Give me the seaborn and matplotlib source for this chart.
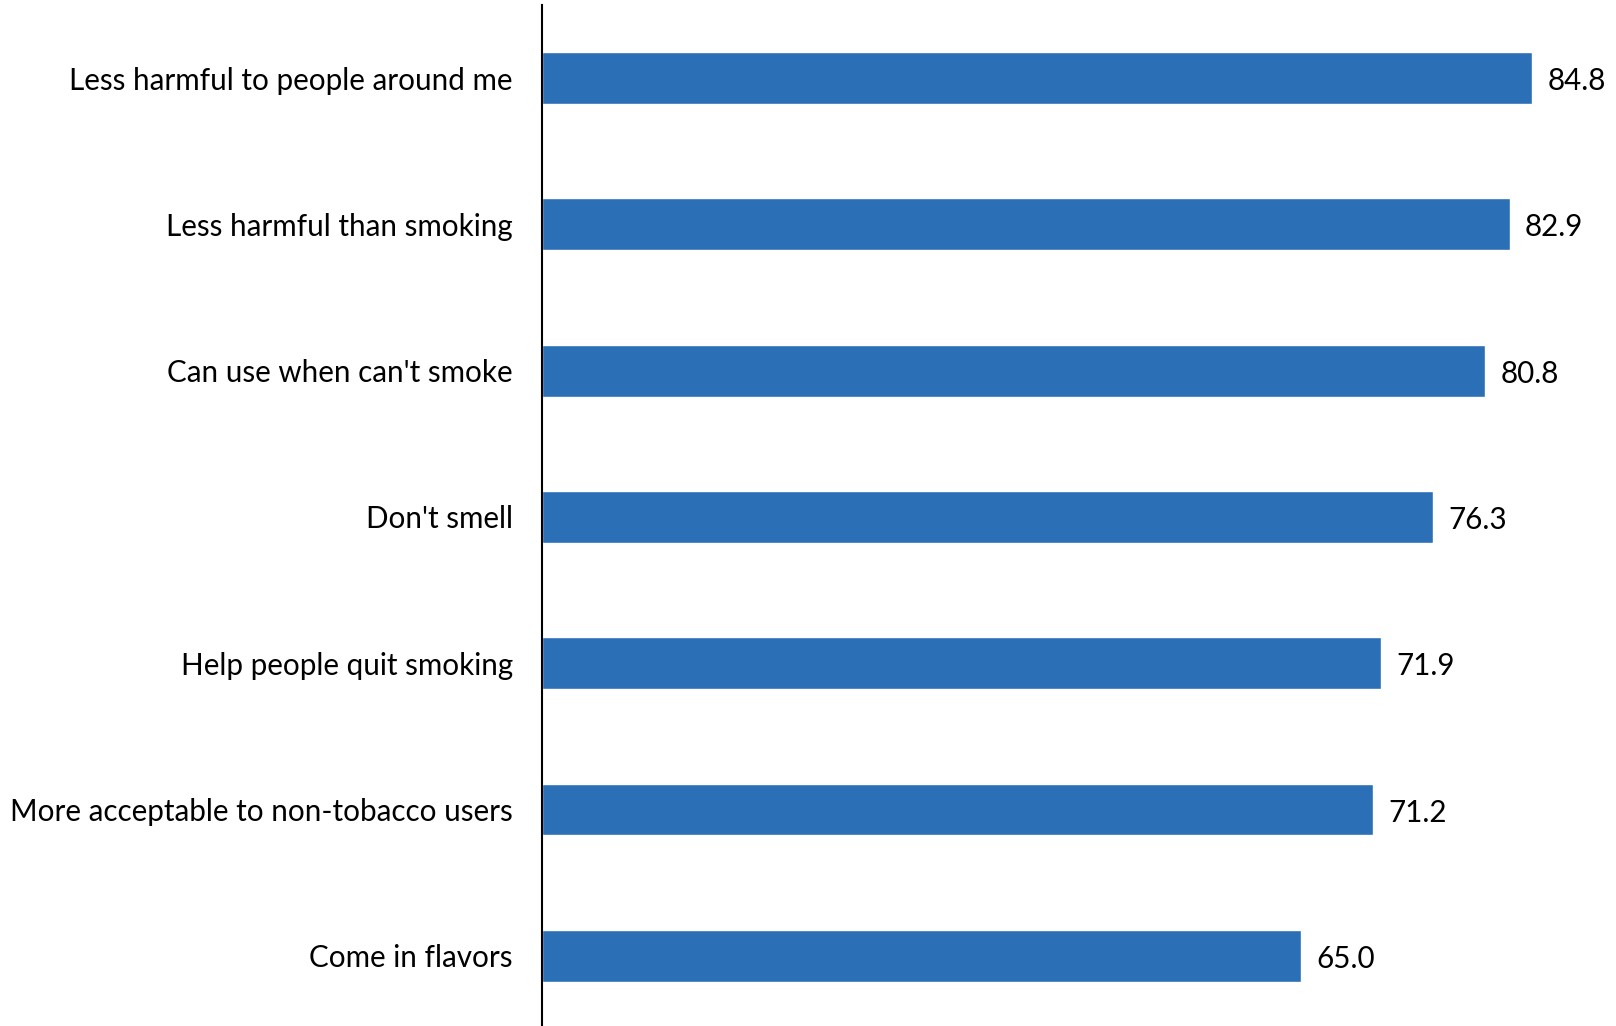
import numpy as np
import pandas as pd
import seaborn as sns
import matplotlib.pyplot as plt

# reasons for using e-cigarettes, percent
reasons = ['Less harmful to people around me', 'Less harmful than smoking',
           "Can use when can't smoke", "Don't smell", 'Help people quit smoking',
           'More acceptable to non-tobacco users', 'Come in flavors']
percent = [84.8, 82.9, 80.8, 76.3, 71.9, 71.2, 65.0]

df = pd.DataFrame({'reason': reasons, 'percent': percent})

sns.set_style('white')
plt.rcParams['font.family'] = ['Lato', 'DejaVu Sans']
plt.rcParams['text.color'] = 'black'
plt.rcParams['ytick.color'] = 'black'

fig = plt.figure(figsize=(16.16, 10.26), dpi=100)
ax = fig.add_axes([542 / 1616, 0, 1074 / 1616, 1021 / 1026])

sns.barplot(data=df, x='percent', y='reason', orient='h', color='#2B6FB6',
            saturation=1, width=0.355, ax=ax)

#value labels at bar ends, nudged down a little
for t in ax.bar_label(ax.containers[0], labels=['{:.1f}'.format(v) for v in percent],
                      padding=11, fontsize=21.3, color='black'):
    t.xyann = (11, -2.2)

ax.set_xlim(0, 92)
ax.set_ylim(6.48, -0.5)
ax.set_xlabel('')
ax.set_ylabel('')
ax.set_xticks([])
ax.tick_params(axis='y', length=0, pad=21, labelsize=21.3, labelcolor='black')

for side in ['top', 'right', 'bottom']:
    ax.spines[side].set_visible(False)
ax.spines['left'].set_color('black')
ax.spines['left'].set_linewidth(1.5)

fig.savefig('out.png', dpi=100)
